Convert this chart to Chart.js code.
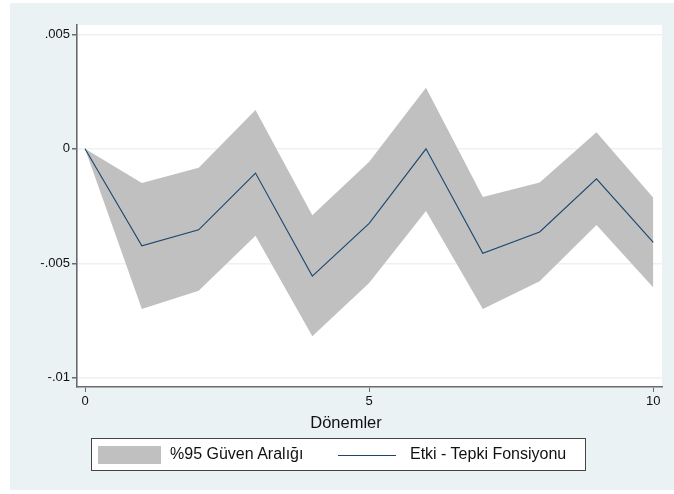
<!DOCTYPE html>
<html>
<head>
<meta charset="utf-8">
<script src="https://cdn.jsdelivr.net/npm/chart.js@4.4.1/dist/chart.umd.min.js"></script>
<style>
    body { margin: 0; background: #ffffff; font-family: "Liberation Sans", Arial, sans-serif; }
    #frame { position: absolute; left: 10px; top: 3px; width: 664px; height: 487px; background: #eaf2f3; }
    #wrap { position: absolute; left: 0; top: 0; width: 674px; height: 494px; }
    #xTitle { position: absolute; left: 246px; width: 200px; top: 413px; text-align: center; font-size: 16.5px; color: #111; }
    #legend {
        position: absolute; left: 91px; top: 438px; width: 493px; height: 31px;
        background: #fff; border: 1px solid #444; font-size: 16px; color: #111;
    }
    .sw-band { position: absolute; left: 6px; top: 7px; width: 63px; height: 18px; background: #c0c0c0; }
    .sw-line { position: absolute; left: 246px; top: 16px; width: 58px; height: 0; border-top: 1.2px solid #1a476f; }
    .lbl { position: absolute; top: 6px; white-space: nowrap; }
</style>
</head>
<body>
<div id="frame"></div>
<div id="wrap"><canvas id="irfChart" width="674" height="494"></canvas></div>
<div id="xTitle">Dönemler</div>
<div id="legend">
    <div class="sw-band"></div>
    <div class="lbl" style="left:78px">%95 Güven Aralığı</div>
    <div class="sw-line"></div>
    <div class="lbl" style="left:318px">Etki - Tepki Fonsiyonu</div>
</div>
<script>
const donemler = [0, 1, 2, 3, 4, 5, 6, 7, 8, 9, 10];
const etki = [0, -0.00424, -0.00354, -0.00106, -0.00556, -0.00326, 0, -0.00456, -0.00363, -0.00131, -0.00409];
const ustSinir = [0, -0.00149, -0.00083, 0.00169, -0.0029, -0.00057, 0.00267, -0.00211, -0.00147, 0.00072, -0.00214];
const altSinir = [0, -0.0070, -0.0062, -0.0038, -0.00819, -0.00586, -0.00272, -0.0070, -0.00578, -0.00333, -0.00606];
const yTicks = [-0.01, -0.005, 0, 0.005];
const xTicks = [0, 5, 10];

function pts(vals) {
    return donemler.map((d, i) => ({ x: d, y: vals[i] }));
}

function fmtY(v) {
    if (Math.abs(v) < 1e-12) return "0";
    let s = String(Math.round(v * 1000) / 1000);
    return s.replace("0.", ".");
}

// white plot region, like the Stata plotregion
const plotBg = {
    id: "plotBg",
    beforeDraw(chart) {
        const a = chart.chartArea;
        const c = chart.ctx;
        c.save();
        c.fillStyle = "#ffffff";
        c.fillRect(a.left, a.top, a.right - a.left, a.bottom - a.top);
        c.restore();
    },
};

const ctx = document.getElementById("irfChart").getContext("2d");

new Chart(ctx, {
    type: "line",
    data: {
        datasets: [
            {
                label: "Etki - Tepki Fonsiyonu",
                data: pts(etki),
                borderColor: "#1a476f",
                borderWidth: 1.1,
                pointRadius: 0,
                fill: false,
                tension: 0,
            },
            {
                label: "%95 Güven Aralığı",
                data: pts(ustSinir),
                borderWidth: 0,
                borderColor: "rgba(0,0,0,0)",
                backgroundColor: "#c0c0c0",
                pointRadius: 0,
                fill: "+1",
                tension: 0,
            },
            {
                label: "alt",
                data: pts(altSinir),
                borderWidth: 0,
                borderColor: "rgba(0,0,0,0)",
                pointRadius: 0,
                fill: false,
                tension: 0,
            },
        ],
    },
    options: {
        responsive: false,
        animation: false,
        layout: { padding: { left: 0, top: 25, right: 12, bottom: 0 } },
        plugins: {
            legend: { display: false },
            tooltip: { enabled: false },
        },
        scales: {
            x: {
                type: "linear",
                min: -0.141,
                max: 10.153,
                afterBuildTicks: (s) => { s.ticks = xTicks.map((v) => ({ value: v })); },
                afterFit: (s) => { s.height = 107; },
                border: { color: "#6a6a6a", width: 1.6 },
                grid: { drawOnChartArea: false, drawTicks: true, tickLength: 5, tickColor: "#6a6a6a" },
                ticks: { color: "#111", font: { family: "Liberation Sans", size: 13 }, padding: 2, maxRotation: 0 },
            },
            y: {
                min: -0.010402,
                max: 0.005406,
                afterBuildTicks: (s) => { s.ticks = yTicks.map((v) => ({ value: v })); },
                afterFit: (s) => { s.width = 77; },
                border: { color: "#6a6a6a", width: 1.6 },
                grid: { color: "#eaf2f3", lineWidth: 1.5, tickLength: 5, tickColor: "#6a6a6a" },
                ticks: {
                    color: "#111",
                    font: { family: "Liberation Sans", size: 13 },
                    padding: 2,
                    callback: (v) => fmtY(v),
                },
            },
        },
    },
    plugins: [plotBg],
});
</script>
</body>
</html>
